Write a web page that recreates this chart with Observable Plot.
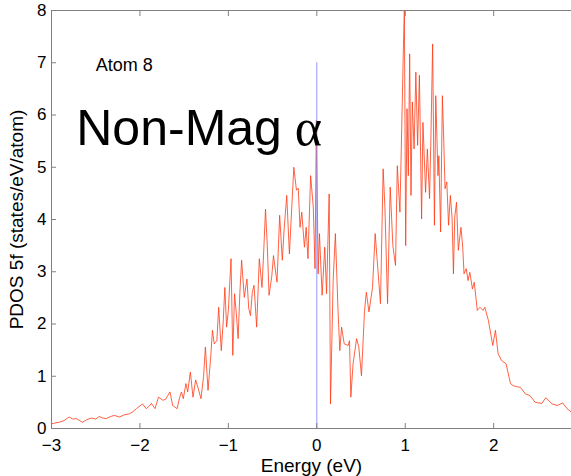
<!DOCTYPE html>
<html>
<head>
<meta charset="utf-8">
<script src="https://cdn.jsdelivr.net/npm/d3@7"></script>
<script src="https://cdn.jsdelivr.net/npm/@observablehq/plot@0.6"></script>
<style>
  html, body { margin: 0; padding: 0; background: #fff; }
  #chart { width: 571px; height: 476px; overflow: hidden; }
</style>
</head>
<body>
<div id="chart"></div>
<script>
// Energy grid (eV) and PDOS values
const energy = [
  -3.00,-2.95,-2.91,-2.86,-2.80,-2.76,-2.72,-2.68,-2.65,-2.60,-2.55,-2.50,-2.46,-2.42,-2.38,-2.33,-2.29,-2.23,-2.18,-2.12,
  -2.08,-2.04,-1.97,-1.93,-1.90,-1.87,-1.83,-1.79,-1.74,-1.71,-1.66,-1.63,-1.58,-1.55,-1.53,-1.51,-1.48,-1.46,-1.43,-1.40,
  -1.37,-1.34,-1.31,-1.28,-1.26,-1.23,-1.20,-1.18,-1.16,-1.13,-1.11,-1.08,-1.06,-1.04,-1.02,-1.00,-0.97,-0.95,-0.93,-0.91,
  -0.89,-0.87,-0.85,-0.82,-0.79,-0.77,-0.75,-0.73,-0.71,-0.68,-0.65,-0.62,-0.60,-0.58,-0.56,-0.54,-0.51,-0.49,-0.45,-0.42,
  -0.39,-0.37,-0.34,-0.31,-0.29,-0.26,-0.23,-0.21,-0.19,-0.17,-0.14,-0.12,-0.10,-0.07,-0.04,-0.02,-0.005,0.005,0.015,0.03,
  0.06,0.09,0.11,0.14,0.155,0.185,0.21,0.24,0.26,0.28,0.31,0.355,0.37,0.385,0.41,0.45,0.475,0.505,0.54,0.56,
  0.59,0.63,0.66,0.69,0.72,0.75,0.77,0.80,0.83,0.86,0.89,0.91,0.94,0.96,0.98,0.99,1.005,1.02,1.035,1.05,
  1.065,1.08,1.10,1.12,1.14,1.16,1.185,1.20,1.23,1.25,1.275,1.29,1.31,1.33,1.345,1.37,1.38,1.40,1.42,1.435,
  1.45,1.47,1.49,1.51,1.53,1.545,1.56,1.58,1.60,1.63,1.65,1.665,1.69,1.71,1.73,1.76,1.78,1.815,1.845,1.88,
  1.90,1.94,1.99,2.02,2.05,2.09,2.14,2.19,2.22,2.26,2.30,2.36,2.41,2.47,2.545,2.59,2.66,2.72,2.78,2.83,2.88
];
const pdos = [
  0.09,0.11,0.12,0.15,0.22,0.18,0.19,0.15,0.12,0.17,0.20,0.18,0.23,0.20,0.19,0.23,0.25,0.22,0.26,0.28,
  0.32,0.38,0.47,0.38,0.42,0.48,0.38,0.60,0.54,0.56,0.70,0.44,0.38,0.60,0.70,0.57,0.86,0.70,1.08,0.60,
  0.93,0.76,0.57,1.00,1.56,0.73,1.36,1.88,1.62,1.68,2.32,1.49,2.00,2.70,1.94,2.26,3.25,1.40,2.58,2.20,
  1.72,2.60,3.22,2.51,2.86,2.30,2.16,2.60,2.74,1.94,3.25,2.70,3.40,4.20,3.50,2.55,2.90,3.31,2.80,4.08,
  3.22,3.80,4.46,3.34,4.00,5.00,4.56,4.60,3.85,4.14,3.47,3.85,3.25,4.84,4.24,3.06,5.90,4.42,2.96,3.73,
  2.55,3.47,2.58,4.49,0.47,2.83,3.73,2.26,1.49,1.94,1.62,1.59,1.68,0.60,1.24,1.72,1.56,1.01,2.26,2.61,
  2.23,2.70,3.73,3.06,2.39,4.97,4.24,2.39,4.62,3.50,3.12,5.03,4.14,5.74,7.36,8.00,3.50,6.12,4.84,7.17,
  4.46,6.25,5.35,6.82,5.42,6.76,4.01,5.86,4.52,5.35,4.40,5.54,7.36,3.89,6.37,4.84,5.22,3.76,6.37,5.54,
  4.59,4.72,3.89,4.46,4.01,2.96,4.05,4.33,3.41,3.85,3.47,2.96,3.06,2.83,2.99,2.67,2.80,2.26,2.32,2.26,
  2.32,2.07,1.59,1.88,1.43,1.30,1.24,0.86,0.82,0.80,0.79,0.66,0.63,0.50,0.48,0.59,0.47,0.44,0.49,0.38,0.31
];
const xDomain = [-3, 2.88];
const yDomain = [0, 8];
const xTicks = [-3, -2, -1, 0, 1, 2];
const yTicks = [0, 1, 2, 3, 4, 5, 6, 7, 8];
const fermiEnergy = [0];
const fermiTop = 7;
const xLabel = "Energy (eV)";
const yLabel = "PDOS 5f (states/eV/atom)";
const notes = [
  {x: -2.50, y: 6.85, text: "Atom 8", size: 18, font: "'Liberation Sans', Arial, sans-serif"},
  {x: -2.72, y: 5.42, text: "Non-Mag", size: 50, font: "'Liberation Sans', Arial, sans-serif"},
  {x: -0.25, y: 5.42, text: "α", size: 52, font: "'Liberation Serif', 'Times New Roman', serif"}
];

const table = energy.map((e, i) => ({e, d: pdos[i]}));
const axisGray = "#808080";
const fmt = d => d3.format("d")(d).replace("-", "\u2212");

const chart = Plot.plot({
  width: 571,
  height: 476,
  marginLeft: 51,
  marginRight: 0,
  marginTop: 10,
  marginBottom: 48,
  style: {fontFamily: "'Liberation Sans', Arial, sans-serif", fontSize: "17px", color: "black", background: "white"},
  x: {domain: xDomain},
  y: {domain: yDomain},
  marks: [
    Plot.line(table, {x: "e", y: "d", stroke: "#ff3a14", strokeWidth: 0.8}),
    Plot.ruleX(fermiEnergy, {x: d => d, y1: yDomain[0], y2: fermiTop, stroke: "#7f86ff", strokeWidth: 1, strokeOpacity: 0.85}),
    Plot.ruleY([yDomain[1]], {stroke: axisGray}),
    Plot.ruleY([yDomain[0]], {stroke: axisGray}),
    Plot.ruleX([xDomain[0]], {stroke: axisGray}),
    Plot.axisX(xTicks, {anchor: "bottom", tickSize: -5, tickPadding: 15, stroke: axisGray, fill: "black",
      fontSize: 17, tickFormat: fmt, label: null}),
    Plot.axisX([], {anchor: "bottom", tickSize: 0, fontSize: 19, fill: "black",
      label: xLabel, labelAnchor: "center", labelArrow: "none", labelOffset: 43}),
    Plot.axisX(xTicks, {anchor: "top", tickSize: -5, stroke: axisGray, tickFormat: () => "", label: null}),
    Plot.axisY(yTicks, {anchor: "left", tickSize: -5, tickPadding: 10, stroke: axisGray, fill: "black",
      fontSize: 17, tickFormat: fmt, label: null}),
    Plot.axisY([], {anchor: "left", tickSize: 0, fontSize: 19, fill: "black",
      label: yLabel, labelAnchor: "center", labelArrow: "none", labelOffset: 42}),
    ...notes.map(n => Plot.text([n], {x: "x", y: "y", text: "text", fontSize: n.size, fontFamily: n.font,
      textAnchor: "start", lineAnchor: "bottom", fill: "black"}))
  ]
});
document.getElementById("chart").appendChild(chart);
</script>
</body>
</html>
